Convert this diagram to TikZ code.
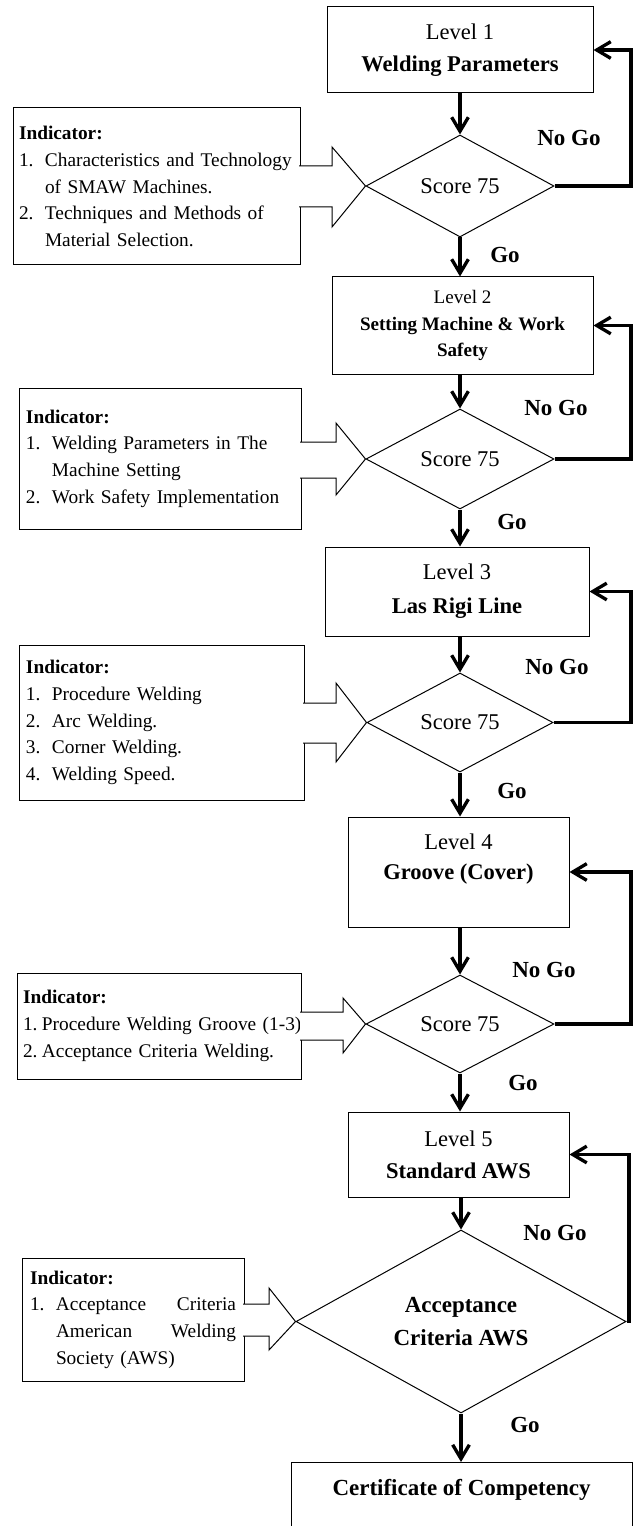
\documentclass[tikz,border=0pt]{standalone}
\usepackage{fontspec}
\setmainfont{Liberation Serif}
\usetikzlibrary{arrows.meta,shapes.geometric,calc}
\tikzset{
  lvl/.style={draw, line width=0.75pt, inner sep=0pt, align=center},
  dec/.style={draw, diamond, line width=0.75pt, inner sep=0pt, align=center, shape aspect=1.8},
  ind/.style={draw, line width=0.75pt, inner ysep=0pt, align=left, font=\fontsize{14.5pt}{20pt}\selectfont},
  conn/.style={line width=2.5pt, -{Straight Barb[length=10.5pt,width=12.5pt]}},
  lab/.style={font=\bfseries\fontsize{17.25pt}{20pt}\selectfont},
  blk/.style={line width=0.75pt, fill=white, line join=miter},
  bigf/.style={font=\fontsize{16.9pt}{24pt}\selectfont}
}
\begin{document}
\begin{tikzpicture}[x=0.75pt,y=-0.75pt]
\useasboundingbox (0,0) rectangle (633,1526);
\clip (0,0) rectangle (633,1526);

% level boxes
\node[lvl, bigf, minimum width=199.5pt, minimum height=64.5pt] (L1) at (460,50) {Level 1\\\textbf{Welding Parameters}};
\node[lvl, font=\fontsize{14.3pt}{19.9pt}\selectfont, minimum width=195.75pt, minimum height=72.75pt] (L2) at (462.5,325.5) {Level 2\\\textbf{Setting Machine \& Work}\\\textbf{Safety}};
\node[lvl, font=\fontsize{16.9pt}{25.5pt}\selectfont, minimum width=198pt, minimum height=66.75pt] (L3) at (457,591.5) {Level 3\\\textbf{Las Rigi Line}};
\node[lvl, font=\fontsize{16.9pt}{22.5pt}\selectfont, minimum width=165.75pt, minimum height=82.5pt] (L4) at (458.5,872) {Level 4\\\textbf{Groove (Cover)}\\\mbox{}};
\node[lvl, bigf, minimum width=165.75pt, minimum height=63.75pt] (L5) at (458.5,1154.5) {Level 5\\\textbf{Standard AWS}};
\node[draw, line width=0.75pt, anchor=north, minimum width=255.75pt, inner ysep=0pt, text height=25.1pt, text depth=60pt, font=\bfseries\fontsize{17.25pt}{20pt}\selectfont] (C) at (461.5,1462) {Certificate of Competency};

% decisions
\node[dec, bigf, minimum width=141pt, minimum height=76.5pt] (D1) at (460,186) {Score 75};
\node[dec, bigf, minimum width=141pt, minimum height=75pt] (D2) at (460,459) {Score 75};
\node[dec, bigf, minimum width=139.5pt, minimum height=74.25pt] (D3) at (460,722.5) {Score 75};
\node[dec, bigf, minimum width=141pt, minimum height=73.5pt] (D4) at (460,1024) {Score 75};
\node[dec, font=\bfseries\fontsize{17.25pt}{24.75pt}\selectfont, minimum width=247.5pt, minimum height=137.25pt] (D5) at (461,1321.5) {Acceptance\\Criteria AWS};

% indicator boxes
\node[ind, inner xsep=4.5pt, minimum width=215.25pt, minimum height=117.75pt, text width=206.25pt] (I1) at (156.5,186.5) {%
\textbf{Indicator:}\\
\mbox{\makebox[19.5pt][l]{1.}Characteristics and Technology}\\
\mbox{\hspace*{19.5pt}of SMAW Machines.}\\
\mbox{\makebox[19.5pt][l]{2.}Techniques and Methods of}\\
\mbox{\hspace*{19.5pt}Material Selection.}};
\node[ind, inner xsep=5.25pt, minimum width=211.5pt, minimum height=105.75pt, text width=201pt] (I2) at (160,458.5) {%
\textbf{Indicator:}\\
\mbox{\makebox[19.5pt][l]{1.}Welding Parameters in The}\\
\mbox{\hspace*{19.5pt}Machine Setting}\\
\mbox{\makebox[19.5pt][l]{2.}Work Safety Implementation}};
\node[ind, inner xsep=5.25pt, minimum width=213.75pt, minimum height=116.25pt, text width=203.25pt] (I3) at (161.5,722.5) {%
\textbf{Indicator:}\\
\mbox{\makebox[19.5pt][l]{1.}Procedure Welding}\\
\mbox{\makebox[19.5pt][l]{2.}Arc Welding.}\\
\mbox{\makebox[19.5pt][l]{3.}Corner Welding.}\\
\mbox{\makebox[19.5pt][l]{4.}Welding Speed.}};
\node[ind, inner xsep=4.5pt, minimum width=213pt, minimum height=79.5pt, text width=204pt] (I4) at (159,1026) {%
\textbf{Indicator:}\\
\mbox{\makebox[14.25pt][l]{1.}Procedure Welding Groove (1-3)}\\
\mbox{\makebox[14.25pt][l]{2.}Acceptance Criteria Welding.}};
\node[ind, inner xsep=6pt, minimum width=166.5pt, minimum height=92.25pt, text width=154.5pt] (I5) at (133,1319.5) {%
\textbf{Indicator:}\\
\mbox{\makebox[19.5pt][l]{1.}\makebox[135pt][s]{Acceptance\hfill Criteria}}\\
\mbox{\hspace*{19.5pt}\makebox[135pt][s]{American\hfill Welding}}\\
\mbox{\hspace*{19.5pt}Society (AWS)}};

% block arrows from indicators
\path[blk, draw] ($(I1.east|-0,166)+(-1pt,0)$) -- (332,166) -- (332,147) -- (D1.west) -- (332,227) -- (332,207) -- ($(I1.east|-0,207)+(-1pt,0)$);
\path[blk, draw] ($(I2.east|-0,442)+(-1pt,0)$) -- (336,442) -- (336,423) -- (D2.west) -- (336,495) -- (336,478) -- ($(I2.east|-0,478)+(-1pt,0)$);
\path[blk, draw] ($(I3.east|-0,703)+(-1pt,0)$) -- (336,703) -- (336,683) -- (D3.west) -- (336,762) -- (336,743) -- ($(I3.east|-0,743)+(-1pt,0)$);
\path[blk, draw] ($(I4.east|-0,1012)+(-1pt,0)$) -- (343,1012) -- (343,998) -- (D4.west) -- (343,1053) -- (343,1040) -- ($(I4.east|-0,1040)+(-1pt,0)$);
\path[blk, draw] ($(I5.east|-0,1304)+(-1pt,0)$) -- (269,1304) -- (269,1288) -- (D5.west) -- (269,1350) -- (269,1336) -- ($(I5.east|-0,1336)+(-1pt,0)$);

% down connectors
\draw[conn] (L1.south -| D1.north) -- (D1.north);
\draw[conn] (D1.south) -- (D1.south |- L2.north);
\draw[conn] (L2.south -| D2.north) -- (D2.north);
\draw[conn] (D2.south) -- (D2.south |- L3.north);
\draw[conn] (L3.south -| D3.north) -- (D3.north);
\draw[conn] (D3.south) -- (D3.south |- L4.north);
\draw[conn] (L4.south -| D4.north) -- (D4.north);
\draw[conn] (D4.south) -- (D4.south |- L5.north);
\draw[conn] (L5.south -| D5.north) -- (D5.north);
\draw[conn] (D5.south) -- (D5.south |- C.north);

% loops
\coordinate (R) at (631,0);
\coordinate (R5) at (629,0);
\draw[conn] (D1.east) -- (D1.east -| R) |- (L1.east);
\draw[conn] (D2.east) -- (D2.east -| R) |- (L2.east);
\draw[conn] (D3.east) -- (D3.east -| R) |- (L3.east);
\draw[conn] (D4.east) -- (D4.east -| R) |- (L4.east);
\draw[conn] (D5.east) -- (D5.east -| R5) |- (L5.east);

% labels
\node[lab] (ng1) at (569,138) {No Go};
\node[lab] (g1) at (505,255) {Go};
\node[lab] (ng2) at (556,408) {No Go};
\node[lab] (g2) at (512,522) {Go};
\node[lab] (ng3) at (557,667) {No Go};
\node[lab] (g3) at (512,791) {Go};
\node[lab] (ng4) at (544,970) {No Go};
\node[lab] (g4) at (523,1083) {Go};
\node[lab] (ng5) at (555,1233) {No Go};
\node[lab] (g5) at (525,1425) {Go};
\end{tikzpicture}
\end{document}
